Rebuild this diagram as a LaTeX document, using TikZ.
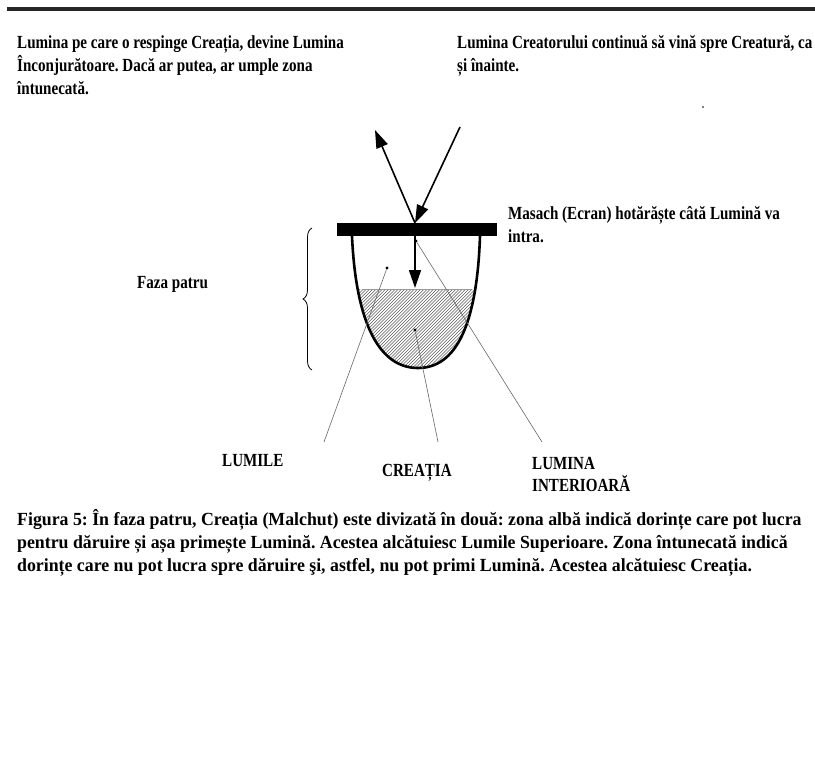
\documentclass[tikz,border=0pt]{standalone}
\usepackage{fontspec}
\setmainfont{Liberation Serif}
\newfontfamily\condfont{Liberation Serif Bold}[FakeStretch=0.815]
\newfontfamily\capfont{Liberation Serif Bold}[FakeStretch=0.962]
\usetikzlibrary{arrows.meta,decorations.pathreplacing}
\frenchspacing
\begin{document}
\begin{tikzpicture}[x=1pt,y=-1pt,
  txt/.style={anchor=base west,inner sep=0pt,font=\condfont\fontsize{18.5}{23}\selectfont},
  captxt/.style={anchor=base west,inner sep=0pt,font=\capfont\fontsize{18.5}{23}\selectfont},
  ray/.style={line width=1.6pt,-{Triangle[length=18pt,width=12pt]}},
  leader/.style={line width=0.6pt,black!60},
  dotn/.style={circle,fill=black,inner sep=0pt,minimum size=3.2pt}]
\useasboundingbox (0,0) rectangle (815,763);
\draw[line width=3.5pt,black!85] (7,9) -- (815,9);
% top texts
\node[txt] (tl1) at (17,48) {Lumina pe care o respinge Creația, devine Lumina};
\node[txt] (tl2) at (17,71) {Înconjurătoare. Dacă ar putea, ar umple zona};
\node[txt] (tl3) at (17,94) {întunecată.};
\node[txt] (tr1) at (457,48) {Lumina Creatorului continuă să vină spre Creatură, ca};
\node[txt] (tr2) at (457,71) {și înainte.};
\fill (703,107) circle (0.8);
% masach
\node[txt] (m1) at (508,219) {Masach (Ecran) hotărăște câtă Lumină va};
\node[txt] (m2) at (508,242) {intra.};
\node[txt] (faza) at (137,288) {Faza patru};
% hatching
\begin{scope}
  \clip (352,236) .. controls (356,325) and (380,368) .. (418,368) .. controls (456,368) and (477,325) .. (480,236) -- cycle;
  \clip (300,289) rectangle (520,380);
  \foreach \x in {250,253.2,...,490} {\draw[line width=0.55pt,black!65] (\x,380) -- (\x+100,280);}
\end{scope}
\draw[line width=0.6pt,black!40] (362,289) -- (471,289);
% bowl
\draw[line width=2.6pt] (352,236) .. controls (356,325) and (380,368) .. (418,368) .. controls (456,368) and (477,325) .. (480,236);
% screen
\node[fill=black,inner sep=0pt,minimum width=160pt,minimum height=13pt] (masach) at (417,229.5) {};
% rays
\coordinate (hit) at (415,223);
\coordinate (src) at (460,127);
\coordinate (refl) at (375,130);
\coordinate (down) at (415,288);
\draw[ray] (src) -- (hit);
\draw[ray] (hit) -- (refl);
\draw[ray] (415,236) -- (down);
% brace
\draw[line width=0.8pt,decorate,decoration={brace,amplitude=9pt}] (312,370) -- (312,228);
% dots and leaders
\node[dotn] (dL) at (387,268) {};
\node[dotn] (dC) at (415,330) {};
\node[dotn] (dI) at (416,241) {};
\coordinate (eL) at (324,442);
\coordinate (eC) at (438,442);
\coordinate (eI) at (542,442);
\draw[leader] (dL) -- (eL);
\draw[leader] (dC) -- (eC);
\draw[leader] (dI) -- (eI);
\node[txt] (lumile) at (222,466) {LUMILE};
\node[txt] (creatia) at (382,476) {CREAȚIA};
\node[txt] (li1) at (532,469) {LUMINA};
\node[txt] (li2) at (532,491) {INTERIOARĂ};
% caption
\node[captxt] (c1) at (17,525) {Figura 5: În faza patru, Creația (Malchut) este divizată în două: zona albă indică dorințe care pot lucra};
\node[captxt] (c2) at (17,548) {pentru dăruire și așa primește Lumină. Acestea alcătuiesc Lumile Superioare. Zona întunecată indică};
\node[captxt] (c3) at (17,571) {dorințe care nu pot lucra spre dăruire şi, astfel, nu pot primi Lumină. Acestea alcătuiesc Creația.};
\end{tikzpicture}
\end{document}
